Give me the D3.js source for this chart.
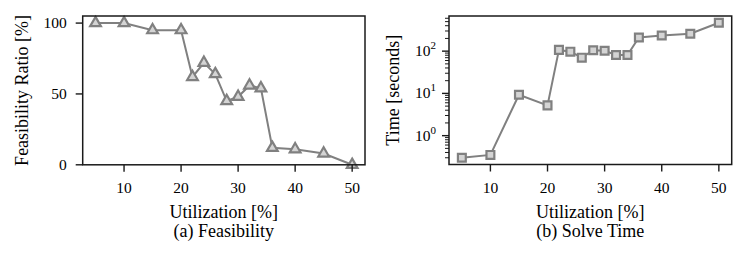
<!DOCTYPE html>
<html>
<head>
<meta charset="utf-8">
<script src="https://cdn.jsdelivr.net/npm/d3@7"></script>
<style>
    body { margin: 0; background: #ffffff; }
    svg { display: block; font-family: "Liberation Serif", "DejaVu Serif", serif; }
    .tick-label { font-size: 15.5px; fill: #000; }
    .axis-title { font-size: 18px; fill: #000; }
</style>
</head>
<body>
<div id="chart"></div>
<script>
const utilization = [5, 10, 15, 20, 22, 24, 26, 28, 30, 32, 34, 36, 40, 45, 50];
const feasibility = [100, 100, 95, 95, 62, 72, 64, 45, 48, 56, 54, 12, 11, 8, 0];
const solveTime = [0.3, 0.35, 9.3, 5.2, 107, 97, 70, 105, 102, 81, 81, 210, 235, 258, 470];
const xTicks = [10, 20, 30, 40, 50];
const feasTicks = [0, 50, 100];
const timeTicks = [1, 10, 100];

const LINE_COLOR = "#808080";
const MARKER_FILL = "#d4d4d4";
const FRAME_COLOR = "#1a1a1a";

const width = 748;
const height = 258;

const svg = d3.select("#chart")
    .append("svg")
    .attr("width", width)
    .attr("height", height);

function xScale(left, right) {
    // matplotlib style 5% margin around the data
    const [lo, hi] = d3.extent(utilization);
    const pad = (hi - lo) * 0.05;
    return d3.scaleLinear().domain([lo - pad, hi + pad]).range([left, right]);
}

function drawFrame(g, box) {
    g.append("rect")
        .attr("x", box.left)
        .attr("y", box.top)
        .attr("width", box.right - box.left)
        .attr("height", box.bottom - box.top)
        .attr("fill", "none")
        .attr("stroke", FRAME_COLOR)
        .attr("stroke-width", 1.5);
}

function drawXAxis(g, x, box, caption) {
    g.selectAll(".xtick")
        .data(xTicks)
        .enter()
        .append("line")
        .attr("x1", d => x(d))
        .attr("x2", d => x(d))
        .attr("y1", box.bottom)
        .attr("y2", box.bottom + 7)
        .attr("stroke", FRAME_COLOR)
        .attr("stroke-width", 1.4);

    g.selectAll(".xlabel")
        .data(xTicks)
        .enter()
        .append("text")
        .attr("class", "tick-label")
        .attr("x", d => x(d))
        .attr("y", 192.5)
        .attr("text-anchor", "middle")
        .text(d => d);

    const cx = (box.left + box.right) / 2;
    g.append("text")
        .attr("class", "axis-title")
        .attr("x", cx)
        .attr("y", 218)
        .attr("text-anchor", "middle")
        .text("Utilization [%]");

    g.append("text")
        .attr("class", "axis-title")
        .attr("x", cx)
        .attr("y", 237)
        .attr("text-anchor", "middle")
        .text(caption);
}

function drawSeries(g, points, x, y, symbol, size) {
    const line = d3.line()
        .x(d => x(d[0]))
        .y(d => y(d[1]));

    g.append("path")
        .datum(points)
        .attr("d", line)
        .attr("fill", "none")
        .attr("stroke", LINE_COLOR)
        .attr("stroke-width", 2);

    g.selectAll(".marker")
        .data(points)
        .enter()
        .append("path")
        .attr("transform", d => `translate(${x(d[0])},${y(d[1])})`)
        .attr("d", d3.symbol().type(symbol).size(size))
        .attr("fill", MARKER_FILL)
        .attr("stroke", LINE_COLOR)
        .attr("stroke-width", 2.2);
}

function drawFeasibility() {
    const box = { left: 82.7, right: 365, top: 16, bottom: 164.8 };
    const g = svg.append("g");
    const x = xScale(box.left, box.right);
    const y = d3.scaleLinear().domain([0, 105]).range([box.bottom, box.top]);

    const points = utilization.map((u, i) => [u, feasibility[i]]);
    drawSeries(g, points, x, y, d3.symbolTriangle, 50);

    g.selectAll(".ytick")
        .data(feasTicks)
        .enter()
        .append("line")
        .attr("x1", box.left - 7)
        .attr("x2", box.left)
        .attr("y1", d => y(d))
        .attr("y2", d => y(d))
        .attr("stroke", FRAME_COLOR)
        .attr("stroke-width", 1.4);

    g.selectAll(".ylabel")
        .data(feasTicks)
        .enter()
        .append("text")
        .attr("class", "tick-label")
        .attr("x", box.left - 16)
        .attr("y", d => y(d) + 5)
        .attr("text-anchor", "end")
        .text(d => d);

    g.append("text")
        .attr("class", "axis-title")
        .attr("transform", `translate(27.5,${(box.top + box.bottom) / 2}) rotate(-90)`)
        .attr("text-anchor", "middle")
        .text("Feasibility Ratio [%]");

    drawXAxis(g, x, box, "(a) Feasibility");
    drawFrame(g, box);
}

function drawSolveTime() {
    const box = { left: 449, right: 731.7, top: 16, bottom: 164.5 };
    const g = svg.append("g");
    const x = xScale(box.left, box.right);

    const [lo, hi] = d3.extent(solveTime).map(Math.log10);
    const pad = (hi - lo) * 0.05;
    const y = d3.scaleLog()
        .domain([Math.pow(10, lo - pad), Math.pow(10, hi + pad)])
        .range([box.bottom, box.top]);

    const points = utilization.map((u, i) => [u, solveTime[i]]);
    drawSeries(g, points, x, y, d3.symbolSquare, 62);

    const minor = y.ticks().filter(d => !timeTicks.includes(d));

    g.selectAll(".minor")
        .data(minor)
        .enter()
        .append("line")
        .attr("x1", box.left - 4)
        .attr("x2", box.left)
        .attr("y1", d => y(d))
        .attr("y2", d => y(d))
        .attr("stroke", FRAME_COLOR)
        .attr("stroke-width", 1);

    g.selectAll(".ytick")
        .data(timeTicks)
        .enter()
        .append("line")
        .attr("x1", box.left - 7)
        .attr("x2", box.left)
        .attr("y1", d => y(d))
        .attr("y2", d => y(d))
        .attr("stroke", FRAME_COLOR)
        .attr("stroke-width", 1.4);

    const labels = g.selectAll(".ylabel")
        .data(timeTicks)
        .enter()
        .append("text")
        .attr("class", "tick-label")
        .attr("x", box.left - 13)
        .attr("y", d => y(d) + 5)
        .attr("text-anchor", "end");

    labels.append("tspan").text("10");
    labels.append("tspan")
        .attr("dy", -7)
        .attr("font-size", "11px")
        .text(d => Math.round(Math.log10(d)));

    g.append("text")
        .attr("class", "axis-title")
        .attr("transform", `translate(399,${(box.top + box.bottom) / 2}) rotate(-90)`)
        .attr("text-anchor", "middle")
        .text("Time [seconds]");

    drawXAxis(g, x, box, "(b) Solve Time");
    drawFrame(g, box);
}

drawFeasibility();
drawSolveTime();
</script>
</body>
</html>
